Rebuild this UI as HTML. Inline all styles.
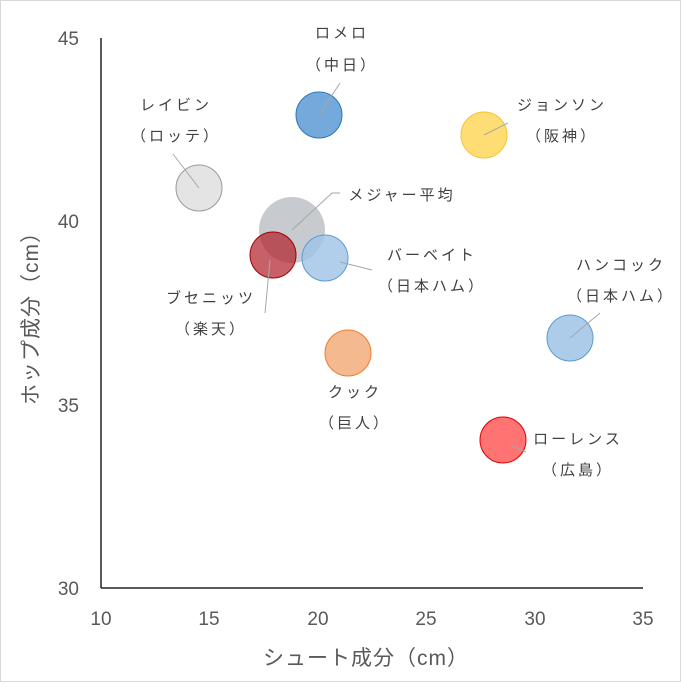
<!DOCTYPE html>
<html><head><meta charset="utf-8"><style>
body{margin:0;background:#fff}
text{font-family:"Liberation Sans","Noto Sans CJK JP",sans-serif;fill:#404040}
.t{font-size:19px;fill:#595959}
.l{font-size:15px;letter-spacing:3px;fill:#404040}
.ax{font-size:21px;fill:#595959;letter-spacing:1px}
</style></head><body>
<svg width="681" height="682" xmlns="http://www.w3.org/2000/svg">
<rect x="0.5" y="0.5" width="680" height="681" fill="#fff" stroke="#d9d9d9"/>
<line x1="101" y1="38" x2="101" y2="588" stroke="#222" stroke-width="1.5"/>
<line x1="101" y1="588" x2="643" y2="588" stroke="#222" stroke-width="1.5"/>
<g text-anchor="end">
<text x="79" y="45" class="t">45</text>
<text x="79" y="228" class="t">40</text>
<text x="79" y="412" class="t">35</text>
<text x="79" y="595" class="t">30</text>
</g>
<g text-anchor="middle">
<text x="101" y="625" class="t">10</text>
<text x="209" y="625" class="t">15</text>
<text x="318" y="625" class="t">20</text>
<text x="426" y="625" class="t">25</text>
<text x="535" y="625" class="t">30</text>
<text x="643" y="625" class="t">35</text>
<text x="366" y="665" class="ax">シュート成分（cm）</text>
</g>
<text class="ax" text-anchor="middle" transform="translate(38,313) rotate(-90)">ホップ成分（cm）</text>

<g stroke-width="1">
<circle cx="199" cy="188" r="23" fill="#e4e4e4" stroke="#9a9a9a"/>
<circle cx="292" cy="230" r="33" fill="#c4c8ce" fill-opacity="0.95"/>
<circle cx="325" cy="258" r="23" fill="#9dc3e6" fill-opacity="0.8" stroke="#5b9bd5"/>
<circle cx="273" cy="255" r="23" fill="#b01c28" fill-opacity="0.7" stroke="#a00000"/>
<circle cx="319" cy="115" r="23" fill="#5b9bd5" fill-opacity="0.85" stroke="#2e75b6"/>
<circle cx="484" cy="135" r="23" fill="#ffd966" fill-opacity="0.9" stroke="#f4c430"/>
<circle cx="570" cy="338" r="23" fill="#9dc3e6" fill-opacity="0.85" stroke="#5b9bd5"/>
<circle cx="348" cy="353" r="23" fill="#f4b183" fill-opacity="0.9" stroke="#ed7d31"/>
<circle cx="503" cy="440" r="23" fill="#ff5050" fill-opacity="0.8" stroke="#e00000"/>
</g>
<g stroke="#a6a6a6" fill="none">
<polyline points="340,83 319,115"/>
<polyline points="173,154 199,188"/>
<polyline points="340,193 332,193 292,230"/>
<polyline points="372,270 340,262"/>
<polyline points="265,313 270,260"/>
<polyline points="508,123 484,135"/>
<polyline points="600,313 570,338"/>
<polyline points="526,452 510,445"/>
</g>
<g text-anchor="middle">
<text x="342" y="38" class="l">ロメロ</text>
<text x="342" y="70" class="l">（中日）</text>
<text x="176" y="110" class="l">レイビン</text>
<text x="176" y="141" class="l">（ロッテ）</text>
<text x="562" y="110" class="l">ジョンソン</text>
<text x="562" y="141" class="l">（阪神）</text>
<text x="402" y="200" class="l">メジャー平均</text>
<text x="432" y="260" class="l">バーベイト</text>
<text x="432" y="291" class="l">（日本ハム）</text>
<text x="211" y="303" class="l">ブセニッツ</text>
<text x="211" y="334" class="l">（楽天）</text>
<text x="621" y="270" class="l">ハンコック</text>
<text x="621" y="301" class="l">（日本ハム）</text>
<text x="355" y="397" class="l">クック</text>
<text x="355" y="428" class="l">（巨人）</text>
<text x="578" y="444" class="l">ローレンス</text>
<text x="578" y="475" class="l">（広島）</text>
</g>
</svg>
</body></html>
